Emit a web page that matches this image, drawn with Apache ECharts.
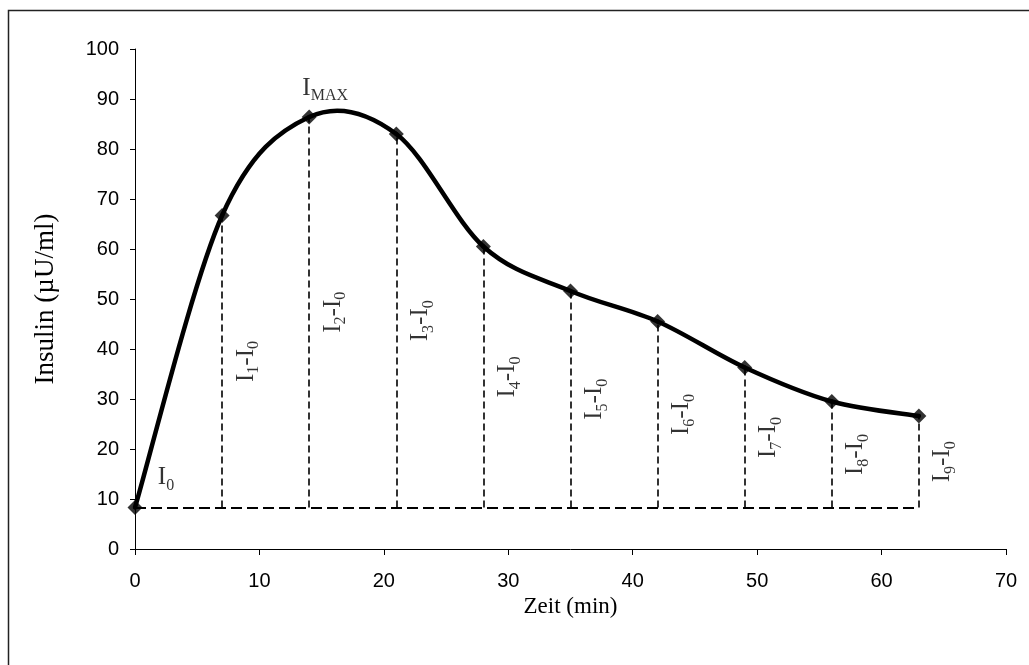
<!DOCTYPE html>
<html>
<head>
<meta charset="utf-8">
<script src="https://cdn.jsdelivr.net/npm/echarts@6/dist/echarts.min.js"></script>
<style>
html,body{margin:0;padding:0;background:#fff;}
#chart{width:1029px;height:665px;}
</style>
</head>
<body>
<div id="chart"></div>
<script>
// Data
const times = [0, 7, 14, 21, 28, 35, 42, 49, 56, 63];
const insulin = [8.3, 66.7, 86.4, 83.0, 60.5, 51.6, 45.5, 36.3, 29.5, 26.6];
const xTicks = [0, 10, 20, 30, 40, 50, 60, 70];
const yTicks = [0, 10, 20, 30, 40, 50, 60, 70, 80, 90, 100];
const xTitle = 'Zeit (min)';
const yTitle = 'Insulin (µU/ml)';
const segLabels = ['1', '2', '3', '4', '5', '6', '7', '8', '9'];

const chart = echarts.init(document.getElementById('chart'), null, {renderer: 'canvas'});
const serif = '"Liberation Serif", "Times New Roman", serif';
const sans = '"Liberation Sans", Arial, sans-serif';
const base = insulin[0];
const maxIdx = insulin.indexOf(Math.max(...insulin));
const points = times.map((t, i) => [t, insulin[i]]);

const rich = {
  b: {fontFamily: serif, fontSize: 25, color: '#000', lineHeight: 32, verticalAlign: 'middle'},
  s: {fontFamily: serif, fontSize: 16, color: '#000', lineHeight: 32, verticalAlign: 'bottom'}
};

const vLines = times.slice(1).map((t, i) => [
  {coord: [t, base]}, {coord: [t, insulin[i + 1]]}
]);

const segLabelData = times.slice(1).map((t, i) => ({
  value: [t, (insulin[i + 1] + base) / 2],
  label: {formatter: '{b|I}{s|' + segLabels[i] + '}{b|-I}{s|0}'}
}));

// Smooth curve (cardinal spline, like the spreadsheet's smoothed line) drawn via axis coords
function renderCurve(params, api) {
  const px = points.map(p => api.coord(p));
  const n = px.length;
  const children = [];
  for (let i = 0; i < n - 1; i++) {
    const p0 = px[Math.max(i - 1, 0)], p1 = px[i], p2 = px[i + 1], p3 = px[Math.min(i + 2, n - 1)];
    const k = 1 / 6;
    children.push({
      type: 'bezierCurve',
      shape: {
        x1: p1[0], y1: p1[1], x2: p2[0], y2: p2[1],
        cpx1: p1[0] + (p2[0] - p0[0]) * k, cpy1: p1[1] + (p2[1] - p0[1]) * k,
        cpx2: p2[0] - (p3[0] - p1[0]) * k, cpy2: p2[1] - (p3[1] - p1[1]) * k
      },
      style: {stroke: '#000', lineWidth: 4.5, fill: 'none', lineCap: 'round'}
    });
  }
  return {type: 'group', children: children};
}

chart.setOption({
  animation: false,
  backgroundColor: '#fff',
  graphic: [{
    type: 'rect', left: 6, top: 8, shape: {width: 1100, height: 700},
    style: {fill: 'none', stroke: '#222', lineWidth: 1.5}, silent: true
  }],
  grid: {left: 135, right: 23, top: 49, bottom: 116, containLabel: false},
  xAxis: {
    type: 'value', min: 0, max: 70, interval: 10,
    name: xTitle, nameLocation: 'middle', nameGap: 40,
    nameTextStyle: {fontFamily: serif, fontSize: 23, color: '#000'},
    axisLine: {show: true, lineStyle: {color: '#000', width: 1}},
    axisTick: {show: true, length: 6, inside: false, lineStyle: {color: '#000'}},
    axisLabel: {fontFamily: sans, fontSize: 20, color: '#000', margin: 22,
      formatter: v => xTicks.includes(v) ? String(v) : ''},
    splitLine: {show: false}
  },
  yAxis: {
    type: 'value', min: 0, max: 100, interval: 10,
    name: yTitle, nameLocation: 'middle', nameGap: 76, nameRotate: 90,
    nameTextStyle: {fontFamily: serif, fontSize: 27, color: '#000'},
    axisLine: {show: true, lineStyle: {color: '#000', width: 1}},
    axisTick: {show: true, length: 5, lineStyle: {color: '#000'}},
    axisLabel: {fontFamily: sans, fontSize: 20, color: '#000', margin: 16,
      formatter: v => yTicks.includes(v) ? String(v) : ''},
    splitLine: {show: false}
  },
  series: [
    {
      type: 'custom',
      data: [[0, 0]],
      renderItem: renderCurve,
      silent: true,
      clip: false,
      z: 4
    },
    {
      type: 'scatter',
      data: points,
      symbol: 'diamond', symbolSize: 15,
      itemStyle: {color: '#000'},
      clip: false,
      silent: true,
      z: 5,
      markLine: {
        silent: true, symbol: 'none', animation: false,
        label: {show: false},
        lineStyle: {color: '#000', width: 1.6, type: [7, 4]},
        data: vLines.concat([[
          {coord: [times[0], base], lineStyle: {width: 2, type: [11, 5]}},
          {coord: [times[times.length - 1], base]}
        ]])
      }
    },
    {
      type: 'scatter',
      symbolSize: 0,
      data: segLabelData,
      silent: true,
      label: {show: true, position: 'inside', rotate: 90, offset: [0, 24], rich: rich},
      z: 6
    },
    {
      type: 'scatter',
      symbolSize: 0,
      silent: true,
      data: [
        {value: [times[0], base], label: {formatter: '{b|I}{s|0}', offset: [31, -30]}},
        {value: [times[maxIdx], insulin[maxIdx]], label: {formatter: '{b|I}{s|MAX}', offset: [16, -29]}}
      ],
      label: {show: true, position: 'inside', rich: rich},
      z: 6
    }
  ]
});
</script>
</body>
</html>
